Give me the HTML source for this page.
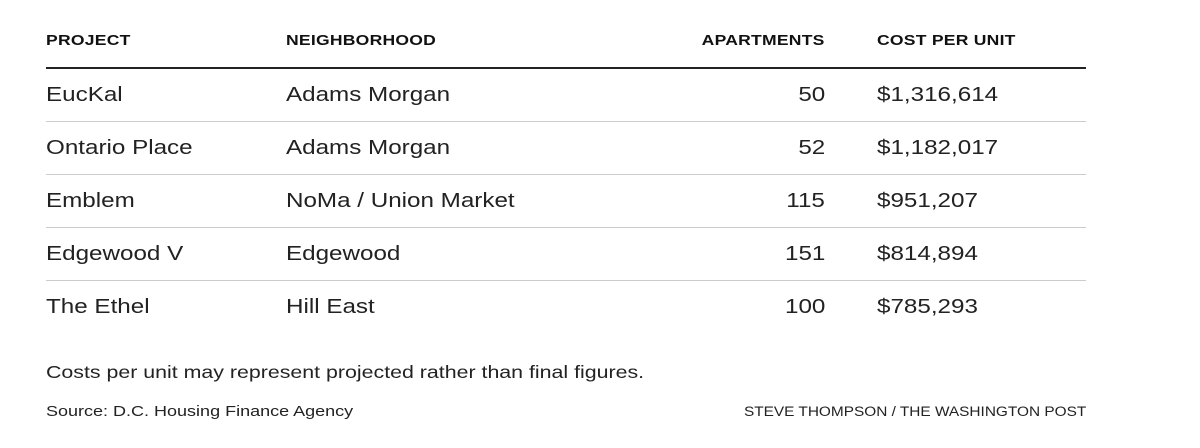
<!DOCTYPE html>
<html><head><meta charset="utf-8">
<style>
body{margin:0;width:1200px;height:448px;background:#fff;font-family:"Liberation Sans",sans-serif;color:#222;position:relative;overflow:hidden}
.a{position:absolute;white-space:nowrap;transform-origin:left center}
.h{font-weight:bold;font-size:14.5px;top:33px;color:#111;letter-spacing:0.2px;transform:scaleX(1.21)}
.c{font-size:20px;color:#222;transform:scaleX(1.21)}
.r{text-align:right;transform-origin:right center}
.line{position:absolute;left:46px;width:1040px;height:1px;background:#ccc}
</style></head><body>
<div class="a h" style="left:46px">PROJECT</div>
<div class="a h" style="left:286px">NEIGHBORHOOD</div>
<div class="a h r" style="right:375px">APARTMENTS</div>
<div class="a h" style="left:877px">COST PER UNIT</div>
<div class="line" style="top:67px;height:2px;background:#222"></div>
<div id="rows"></div>
<div class="a" style="left:46px;top:362px;font-size:17.5px;color:#222;transform:scaleX(1.22)">Costs per unit may represent projected rather than final figures.</div>
<div class="a" style="left:46px;top:403px;font-size:15px;color:#222;transform:scaleX(1.2)">Source: D.C. Housing Finance Agency</div>
<div class="a" style="right:114px;top:404px;font-size:13.5px;color:#222;transform-origin:right center;transform:scaleX(1.14)">STEVE THOMPSON / THE WASHINGTON POST</div>
<script>
const projects=["EucKal","Ontario Place","Emblem","Edgewood V","The Ethel"];
const hoods=["Adams Morgan","Adams Morgan","NoMa / Union Market","Edgewood","Hill East"];
const apts=[50,52,115,151,100];
const costs=["$1,316,614","$1,182,017","$951,207","$814,894","$785,293"];
const root=document.getElementById('rows');
for(let i=0;i<projects.length;i++){
  const top=84+i*53;
  const cells=[[projects[i],'left:46px','project-cell',''],[hoods[i],'left:286px','neighborhood-cell',''],[String(apts[i]),'right:375px','apartments-cell',' r'],[costs[i],'left:877px','cost-cell','']];
  for(const [t,pos,n,extra] of cells){
    const d=document.createElement('div');
    d.className='a c'+extra;
    d.style.cssText=pos+';top:'+top+'px';
    d.textContent=t;
    
    
    root.appendChild(d);
  }
  if(i<projects.length-1){
    const l=document.createElement('div');
    l.className='line';
    l.style.top=(121+i*53)+'px';
    
    
    root.appendChild(l);
  }
}
</script>
</body></html>
